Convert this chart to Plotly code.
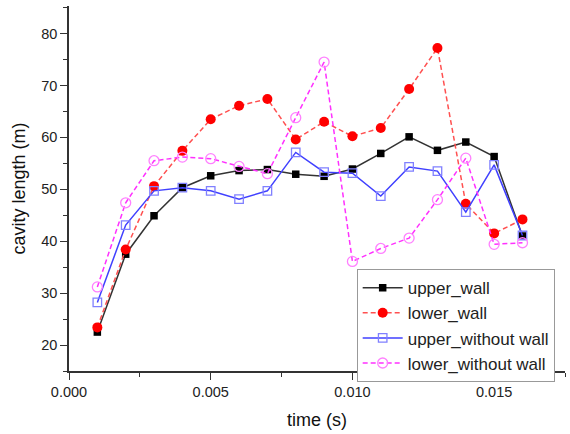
import plotly.graph_objects as go

time_s = [0.001, 0.002, 0.003, 0.004, 0.005, 0.006, 0.007, 0.008,
          0.009, 0.010, 0.011, 0.012, 0.013, 0.014, 0.015, 0.016]
upper_wall = [22.5, 37.5, 44.9, 50.3, 52.6, 53.6, 53.8, 52.9,
              52.5, 53.9, 56.9, 60.1, 57.5, 59.1, 56.3, 41.0]
lower_wall = [23.4, 38.4, 50.6, 57.4, 63.5, 66.1, 67.4, 59.6,
              63.0, 60.2, 61.8, 69.3, 77.2, 47.2, 41.5, 44.2]
upper_without_wall = [28.2, 43.1, 49.7, 50.3, 49.7, 48.1, 49.7, 57.1,
                      53.3, 53.1, 48.7, 54.3, 53.5, 45.6, 54.7, 41.1]
lower_without_wall = [31.2, 47.4, 55.5, 56.2, 55.9, 54.4, 53.0, 63.8,
                      74.5, 36.1, 38.6, 40.6, 48.0, 56.0, 39.4, 39.7]

x_ticks = [0.000, 0.005, 0.010, 0.015]
x_tick_labels = ["0.000", "0.005", "0.010", "0.015"]
y_ticks = [20, 30, 40, 50, 60, 70, 80]

FONT = "Liberation Sans, Arial, sans-serif"

fig = go.Figure()
fig.add_trace(go.Scatter(
    x=time_s, y=upper_wall, name="upper_wall", mode="lines+markers",
    line=dict(color="#333333", width=1.5),
    marker=dict(symbol="square", size=7.5, color="#000000"),
))
fig.add_trace(go.Scatter(
    x=time_s, y=lower_wall, name="lower_wall", mode="lines+markers",
    line=dict(color="#ff5050", width=1.5, dash="5px,3px"),
    marker=dict(symbol="circle", size=10, color="#ff0000"),
))
fig.add_trace(go.Scatter(
    x=time_s, y=upper_without_wall, name="upper_without wall", mode="lines+markers",
    line=dict(color="#4040ff", width=1.5),
    marker=dict(symbol="square-open", size=8.5, color="#8080ff", line=dict(width=1.3)),
))
fig.add_trace(go.Scatter(
    x=time_s, y=lower_without_wall, name="lower_without wall", mode="lines+markers",
    line=dict(color="#ff30ff", width=1.5, dash="5px,3px"),
    marker=dict(symbol="circle-open", size=10, color="#ff80ff", line=dict(width=1.3)),
))

axis_font = dict(family=FONT, size=14.5, color="#222222")

fig.update_layout(
    width=570, height=434,
    margin=dict(l=69, r=5, t=6, b=63, autoexpand=False),
    paper_bgcolor="white", plot_bgcolor="white",
    font=dict(family=FONT, color="#222222"),
    showlegend=True,
    legend=dict(
        x=0.58, y=0.279, xanchor="left", yanchor="top",
        bgcolor="white", bordercolor="#999999", borderwidth=1,
        font=dict(family=FONT, size=17, color="#222222"),
        tracegroupgap=0, itemwidth=40,
    ),
    xaxis=dict(
        range=[0, 0.0175], tickvals=x_ticks, ticktext=x_tick_labels,
        automargin=False,
        showgrid=False, zeroline=False, showline=True, linecolor="#333333", linewidth=1.5,
        ticks="outside", ticklen=7, tickwidth=1.2, tickcolor="#333333",
        minor=dict(ticks="outside", ticklen=4, dtick=0.0025, tick0=0, tickcolor="#333333", showgrid=False),
        tickfont=axis_font,
        title=dict(text="time (s)", font=dict(family=FONT, size=18, color="#111111"), standoff=14),
    ),
    yaxis=dict(
        range=[15, 85.3], tickvals=y_ticks,
        automargin=False,
        showgrid=False, zeroline=False, showline=True, linecolor="#333333", linewidth=1.5,
        ticks="outside", ticklen=7, tickwidth=1.2, tickcolor="#333333",
        minor=dict(ticks="outside", ticklen=4, dtick=5, tick0=15, tickcolor="#333333", showgrid=False),
        tickfont=axis_font,
        title=dict(text="cavity length (m)", font=dict(family=FONT, size=18, color="#111111"), standoff=11),
    ),
)

fig.write_html("out.html", config={"displayModeBar": False},
               post_script="document.body.style.margin='0';")
